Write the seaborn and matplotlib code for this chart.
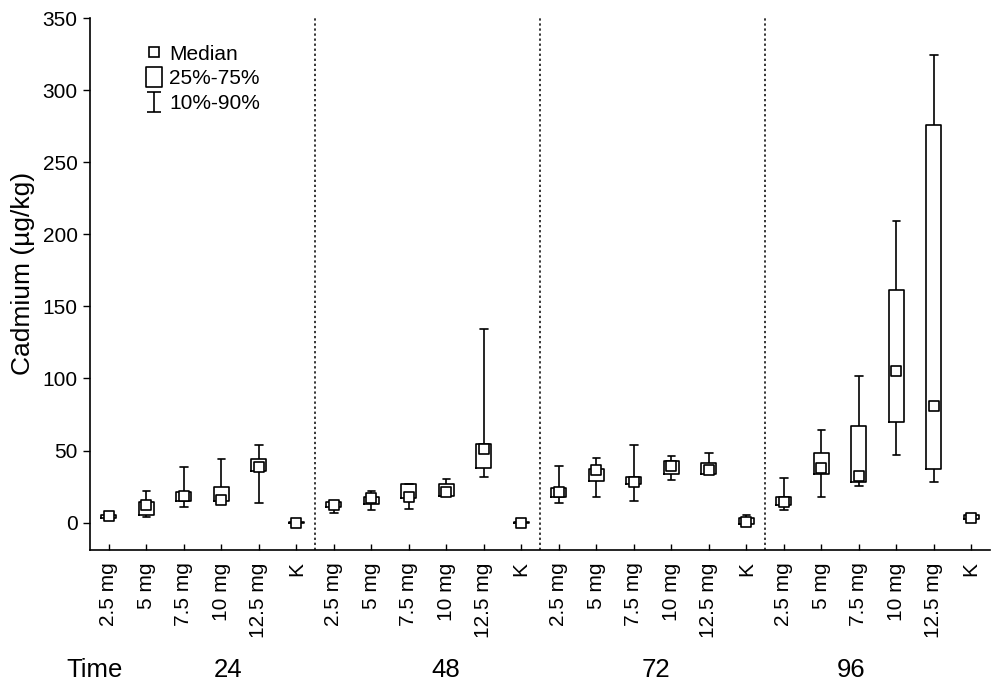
import numpy as np
import pandas as pd
import matplotlib
matplotlib.use("Agg")
import matplotlib.pyplot as plt
import matplotlib.transforms as mtransforms
from matplotlib.path import Path
from matplotlib.lines import Line2D
import seaborn as sns

# data
times = ["24", "48", "72", "96"]
doses = ["2.5 mg", "5 mg", "7.5 mg", "10 mg", "12.5 mg", "K"]

p10 = [3, 4, 11, 15, 13.5, -0.5,
       6.5, 8.5, 9.5, 18.5, 31.5, -0.5,
       13.5, 18, 15, 29.5, 33.5, -1,
       9, 17.5, 25.5, 47, 28.5, 2.5]
q25 = [3.5, 5, 15, 15.2, 35.5, -0.3,
       10.5, 13, 17, 18.5, 38, -0.3,
       18, 29, 26.5, 33.5, 33.5, -1,
       12, 33.5, 28.5, 70, 37.5, 2.5]
med = [4.5, 12, 18.5, 15.5, 38.5, 0,
       12.5, 17, 18, 21.5, 51, 0,
       21.5, 36.5, 28.5, 39, 36.5, 0.5,
       14.5, 38, 32, 105, 81, 3.5]
q75 = [5.5, 14.5, 21.5, 24.8, 44, 0.3,
       14, 18, 26.5, 26.5, 54.5, 0.3,
       24, 37.5, 31.5, 43, 41.5, 3,
       17.5, 48, 67, 161.5, 276, 5.5]
p90 = [6, 22, 38.5, 44, 54, 0.5,
       14, 22, 26.5, 30.5, 134, 0.5,
       39, 44.5, 53.5, 46.5, 48.5, 5,
       31, 64, 101.5, 209.5, 324, 5.5]

cats = [t + " " + d for t in times for d in doses]
tick_labels = [d for t in times for d in doses]

rows = []
for i, c in enumerate(cats):
    for v in (p10[i], q25[i], med[i], q75[i], p90[i]):
        rows.append({"cat": c, "val": v})
df = pd.DataFrame(rows)
med_df = pd.DataFrame({"cat": cats, "val": med})

sns.set_style("ticks")
plt.rcParams["font.family"] = ["Liberation Sans", "DejaVu Sans"]
plt.rcParams["text.color"] = "black"
plt.rcParams["axes.labelcolor"] = "black"

fig = plt.figure(figsize=(10, 6.87), dpi=100)
ax = fig.add_axes([0.09, 1 - 550 / 687, 0.9, 532 / 687])

sns.boxplot(data=df, x="cat", y="val", order=cats, whis=(0, 100), width=0.4,
            fill=False, color="black", linewidth=1.2, showfliers=False,
            medianprops=dict(visible=False), ax=ax)
sns.scatterplot(data=med_df, x="cat", y="val", marker="s", s=60, color="white",
                edgecolor="black", linewidth=1.2, zorder=5, ax=ax)

for xv in (5.5, 11.5, 17.5):
    ax.axvline(xv, color="black", lw=1.1, ls=(0, (1.5, 1.8)), zorder=1)

ax.set_xlim(-0.5, 23.5)
ax.set_ylim(-19, 350)
ax.set_yticks(np.arange(0, 351, 50))
ax.set_xticks(range(len(cats)))
ax.set_xticklabels(tick_labels, rotation=90, va="top")
ax.tick_params(axis="x", direction="in", length=4, width=1, pad=9, labelsize=15, colors="black")
ax.tick_params(axis="y", direction="out", length=5, width=1, pad=4, labelsize=15, colors="black")
ax.set_xlabel("")
ax.set_ylabel("Cadmium (µg/kg)", fontsize=19)
ax.yaxis.set_label_coords(-0.061, 0.52)
sns.despine(ax=ax)
for s in ("left", "bottom"):
    ax.spines[s].set_color("black")
    ax.spines[s].set_linewidth(1.2)

# legend
whisk = Path([(-0.75, 1), (0.75, 1), (0, 1), (0, -1), (-0.75, -1), (0.75, -1)],
             [Path.MOVETO, Path.LINETO, Path.MOVETO, Path.LINETO, Path.MOVETO, Path.LINETO])
rect = Path([(-0.42, -0.5), (0.42, -0.5), (0.42, 0.5), (-0.42, 0.5), (-0.42, -0.5)],
            [Path.MOVETO, Path.LINETO, Path.LINETO, Path.LINETO, Path.CLOSEPOLY])
handles = [
    Line2D([], [], ls="none", marker="s", ms=7, mfc="white", mec="black", mew=1.2),
    Line2D([], [], ls="none", marker=rect, ms=14, mfc="white", mec="black", mew=1.2),
    Line2D([], [], ls="none", marker=whisk, ms=14, mfc="none", mec="black", mew=1.2),
]
ax.legend(handles, ["Median", "25%-75%", "10%-90%"], loc="upper left",
          bbox_to_anchor=(0.059, 0.95), frameon=False, fontsize=15,
          handlelength=1.0, handletextpad=0.25, labelspacing=0.28,
          borderpad=0, borderaxespad=0)

# time row
fig.text(0.095, 1 - 670 / 687, "Time", fontsize=18.5, ha="center", va="center")
trans = mtransforms.blended_transform_factory(ax.transData, fig.transFigure)
for t, xp in zip(times, [3.17, 9.0, 14.6, 19.8]):
    ax.text(xp, 1 - 670 / 687, t, transform=trans, fontsize=18.5, ha="center", va="center")

fig.savefig("out.png", dpi=100)
